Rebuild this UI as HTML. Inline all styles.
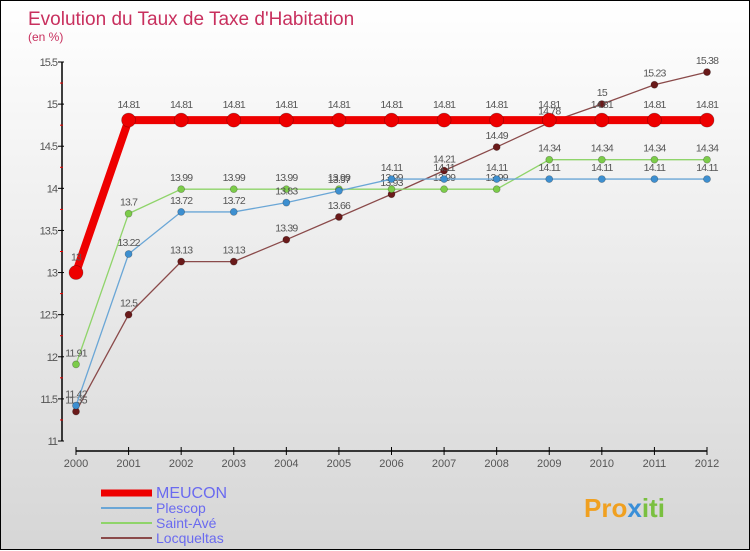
<!DOCTYPE html>
<html><head><meta charset="utf-8"><style>
body{margin:0;width:750px;height:550px;overflow:hidden;font-family:"Liberation Sans",sans-serif}
#wrap{position:relative;width:748px;height:548px;border:1px solid #000;background:linear-gradient(#ffffff,#d6d6d6)}
svg{position:absolute;left:0;top:0}
</style></head><body>
<div id="wrap">
<svg id="c" width="750" height="550"></svg>
</div>
<script>
const years=["2000","2001","2002","2003","2004","2005","2006","2007","2008","2009","2010","2011","2012"];
const meucon=[13,14.81,14.81,14.81,14.81,14.81,14.81,14.81,14.81,14.81,14.81,14.81,14.81];
const plescop=[11.42,13.22,13.72,13.72,13.83,13.97,14.11,14.11,14.11,14.11,14.11,14.11,14.11];
const saintAve=[11.91,13.7,13.99,13.99,13.99,13.99,13.99,13.99,13.99,14.34,14.34,14.34,14.34];
const locqueltas=[11.35,12.5,13.13,13.13,13.39,13.66,13.93,14.21,14.49,14.78,15,15.23,15.38];
const yTicks=[11,11.5,12,12.5,13,13.5,14,14.5,15,15.5];
const NS="http://www.w3.org/2000/svg",svg=document.getElementById('c');
const X=i=>75+i*(706-75)/(years.length-1);
const Y=v=>440-(v-11)*(440-61)/4.5;
function el(t,a,p){const e=document.createElementNS(NS,t);for(const k in a)e.setAttribute(k,a[k]);(p||svg).appendChild(e);return e;}
function txt(x,y,s,a,p){const e=el('text',Object.assign({x:x,y:y},a),p);e.textContent=s;return e;}
const t1=txt(27,24,"Evolution du Taux de Taxe d'Habitation",{fill:'#c8305e','font-size':19});

const t2=txt(27,40,"(en %)",{fill:'#c8305e','font-size':12});

const ya=el('line',{x1:61,y1:61,x2:61,y2:440,stroke:'#000','stroke-width':1.5});

yTicks.forEach((v,i)=>{el('line',{x1:57,y1:Y(v),x2:63,y2:Y(v),stroke:'#000'});
 if(i<yTicks.length-1)el('line',{x1:59,y1:Y(v+0.25),x2:62,y2:Y(v+0.25),stroke:'#e00'});
 const t=txt(56,Y(v)+4,String(v),{'text-anchor':'end','font-size':11,fill:'#555','letter-spacing':'-1'});
 });
const xa=el('line',{x1:75,y1:450,x2:706,y2:450,stroke:'#000','stroke-width':1.5});

years.forEach((y,i)=>{el('line',{x1:X(i),y1:446,x2:X(i),y2:454,stroke:'#000'});
 const t=txt(X(i),466,y,{'text-anchor':'middle','font-size':11,fill:'#555'});
 });
const series=[
 {n:'locqueltas',d:locqueltas,c:'#8a4a4a',m:'#6a1a1a',w:1.3,r:3.5},
 {n:'saint-ave',d:saintAve,c:'#8fd46a',m:'#7ccc4a',w:1.3,r:3.5},
 {n:'plescop',d:plescop,c:'#6aa6d6',m:'#3d8fd0',w:1.3,r:3.5},
 {n:'meucon',d:meucon,c:'#ee0000',m:'#ee0000',w:8,r:7}];
series.forEach(s=>{
 const g=el('g',{});
 const l=el('polyline',{points:s.d.map((v,i)=>X(i)+','+Y(v)).join(' '),fill:'none',stroke:s.c,'stroke-width':s.w},g);
 
 s.d.forEach((v,i)=>{const c=el('circle',{cx:X(i),cy:Y(v),r:s.r,fill:s.m,stroke:'rgba(0,0,0,0.3)','stroke-width':0.7},g);
  
  const t=txt(X(i),Y(v)-(s.n==='meucon'?12:8),String(v),{'text-anchor':'middle','font-size':10.5,fill:'#555','letter-spacing':'-0.8'},g);
  });
});
const leg=[['MEUCON','#ee0000',7,16],['Plescop','#6aa6d6',2,14],['Saint-Avé','#8fd46a',2,14],['Locqueltas','#8a4a4a',2,14]];
leg.forEach((e,i)=>{const y=492+i*15;
 const g=el('g',{});
 el('line',{x1:100,y1:y,x2:151,y2:y,stroke:e[1],'stroke-width':e[2]},g);
 txt(155,y+5,e[0],{fill:'#6a6af0','font-size':e[3]},g);});
const lg=el('text',{x:583,y:516,'font-size':26,'font-weight':'bold'});

[['Pro','#f0a020'],['x','#3a8fd8'],['iti','#7ac040']].forEach(p=>{const ts=el('tspan',{fill:p[1]},lg);ts.textContent=p[0];});
</script>
</body></html>
